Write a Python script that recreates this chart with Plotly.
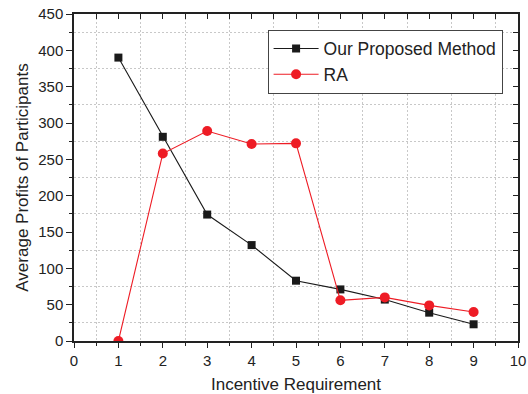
import plotly.graph_objects as go

x_vals = [1, 2, 3, 4, 5, 6, 7, 8, 9]
proposed = [390, 281, 174, 132, 83, 71, 57, 39, 23]
ra = [0, 258, 289, 271, 272, 56, 60, 49, 40]

font_family = "Liberation Sans, Arial, sans-serif"
txt = "#222222"

fig = go.Figure()
fig.add_trace(go.Scatter(
    x=x_vals, y=proposed, name="Our Proposed Method", mode="lines+markers",
    line=dict(color="#1a1a1a", width=1.1),
    marker=dict(symbol="square", size=8, color="#1a1a1a"),
))
fig.add_trace(go.Scatter(
    x=x_vals, y=ra, name="RA", mode="lines+markers",
    line=dict(color="#ee1c25", width=1.1),
    marker=dict(symbol="circle", size=10, color="#ee1c25"),
))
# invisible trace for mirrored axes
fig.add_trace(go.Scatter(x=[0], y=[0], xaxis="x2", yaxis="y2", showlegend=False,
                         mode="markers", marker=dict(opacity=0), hoverinfo="skip"))

grid_minor = dict(showgrid=True, gridcolor="#c8c8c8", griddash="2px,2px", gridwidth=1)

fig.update_layout(
    width=528, height=394,
    margin=dict(l=74, r=10, t=14, b=53),
    paper_bgcolor="white", plot_bgcolor="white",
    font=dict(family=font_family, color=txt, size=15),
    showlegend=True,
    legend=dict(
        x=0.436, y=0.952, xanchor="left", yanchor="top",
        bgcolor="white", bordercolor="#444444", borderwidth=1,
        font=dict(size=17.5, color=txt), tracegroupgap=0, itemwidth=45,
    ),
    xaxis=dict(
        range=[0, 10], dtick=1, tick0=0, showgrid=False, zeroline=False, automargin=False,
        showline=True, linecolor="#222222", linewidth=1.5,
        ticks="outside", ticklen=5, tickwidth=1.2, tickcolor="#222222",
        minor=dict(tick0=0.5, dtick=1, ticks="outside", ticklen=3, tickwidth=1, tickcolor="#222222", **grid_minor),
        title=dict(text="Incentive Requirement", font=dict(size=17), standoff=10),
        tickfont=dict(size=15),
    ),
    yaxis=dict(
        range=[0, 450], dtick=50, tick0=0, showgrid=False, zeroline=False, automargin=False,
        showline=True, linecolor="#222222", linewidth=1.5,
        ticks="outside", ticklen=6, tickwidth=1.2, tickcolor="#222222",
        minor=dict(tick0=25, dtick=50, ticks="outside", ticklen=3, tickwidth=1, tickcolor="#222222", **grid_minor),
        title=dict(text="Average Profits of Participants", font=dict(size=17), standoff=5),
        tickfont=dict(size=15),
    ),
    xaxis2=dict(
        range=[0, 10], overlaying="x", side="top", showticklabels=False, automargin=False,
        showgrid=False, zeroline=False, showline=True, linecolor="#222222", linewidth=1.5,
        ticks="inside", dtick=0.5, tick0=0, ticklen=5, tickwidth=1.2, tickcolor="#222222",
    ),
    yaxis2=dict(
        range=[0, 450], overlaying="y", side="right", showticklabels=False, automargin=False,
        showgrid=False, zeroline=False, showline=True, linecolor="#222222", linewidth=1.5,
        ticks="inside", dtick=25, tick0=0, ticklen=5, tickwidth=1.2, tickcolor="#222222",
    ),
)

fig.write_html(
    "out.html",
    config={"displayModeBar": False},
    post_script="document.body.style.margin='0';document.body.style.overflow='hidden';",
)
